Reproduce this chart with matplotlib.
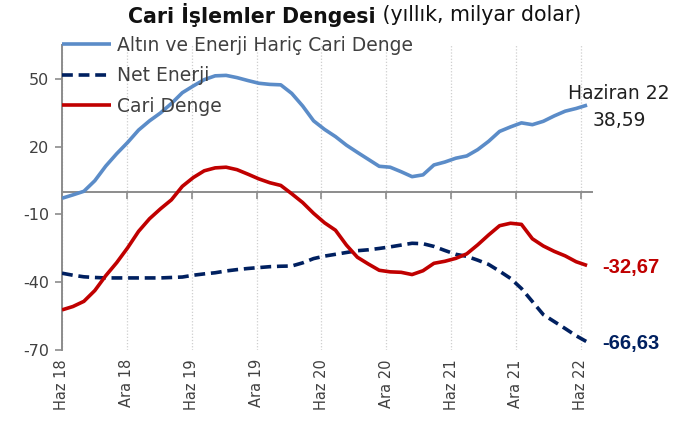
import matplotlib
matplotlib.use("Agg")
import matplotlib.pyplot as plt
import numpy as np

plt.rcParams["axes.unicode_minus"] = False

# ---- data (monthly, Haziran 2018 - Haziran 2022) ----
tick_labels = ["Haz 18", "Ara 18", "Haz 19", "Ara 19", "Haz 20",
               "Ara 20", "Haz 21", "Ara 21", "Haz 22"]

altin_enerji_haric = [-2.8, -1.3, 0.3, 5.0, 11.5, 17.0, 22.0, 27.5, 31.6, 35.1,
                      39.3, 44.1, 47.1, 49.9, 51.6, 51.8, 50.8, 49.5, 48.3, 47.8,
                      47.6, 43.8, 38.2, 31.6, 27.8, 24.6, 20.8, 17.6, 14.5, 11.4,
                      11.0, 9.0, 6.8, 7.6, 12.0, 13.3, 15.0, 16.0, 18.8, 22.5,
                      26.9, 28.9, 30.7, 29.9, 31.4, 33.8, 35.9, 37.1, 38.59]

net_enerji = [-36.1, -37.0, -37.7, -38.0, -38.2, -38.2, -38.2, -38.2, -38.2, -38.2,
              -38.0, -37.8, -37.0, -36.4, -35.9, -35.1, -34.5, -34.0, -33.6, -33.2,
              -33.0, -32.9, -31.5, -29.6, -28.5, -27.7, -26.9, -26.1, -25.7, -25.1,
              -24.4, -23.6, -22.8, -23.0, -24.2, -26.0, -27.7, -28.6, -30.3, -32.2,
              -35.2, -38.4, -42.9, -48.7, -54.5, -57.6, -60.7, -63.9, -66.63]

cari_denge = [-52.4, -50.9, -48.6, -43.8, -37.2, -31.4, -24.8, -17.5, -11.9, -7.5,
              -3.5, 2.5, 6.4, 9.4, 10.7, 11.0, 9.9, 7.9, 5.8, 4.1,
              2.9, -0.8, -4.7, -9.5, -13.7, -17.0, -23.6, -29.0, -32.0, -34.8,
              -35.5, -35.7, -36.7, -35.0, -31.7, -30.8, -29.5, -27.5, -23.5, -19.1,
              -15.0, -13.9, -14.4, -20.8, -24.0, -26.4, -28.4, -31.0, -32.67]

series_names = ["Altın ve Enerji Hariç Cari Denge", "Net Enerji", "Cari Denge"]
y_ticks = [-70, -40, -10, 20, 50]

# ---- styling ----
BLUE = "#5B8CC8"
NAVY = "#002060"
RED = "#C00000"
GRAY = "#8C8C8C"

def fmt(v):
    return f"{v:.2f}".replace(".", ",")

fig = plt.figure(figsize=(6.77, 4.25), dpi=100)
ax = fig.add_axes([62 / 677, 1 - 349.5 / 425, (592 - 62) / 677, (349.5 - 45) / 425])

x = np.arange(len(altin_enerji_haric))
grid_pos = np.arange(len(tick_labels)) * 6 * 0.988

ax.plot(x, altin_enerji_haric, color=BLUE, lw=2.6, solid_capstyle="butt",
        label=series_names[0], zorder=3)
ax.plot(x, net_enerji, color=NAVY, lw=2.6, dashes=(3.0, 1.6),
        label=series_names[1], zorder=3)
ax.plot(x, cari_denge, color=RED, lw=2.6, solid_capstyle="butt",
        label=series_names[2], zorder=3)

ax.set_xlim(0, 48.45)
ax.set_ylim(-70, 65.3)

# spines
for s in ["top", "right"]:
    ax.spines[s].set_visible(False)
ax.spines["left"].set_color(GRAY)
ax.spines["left"].set_linewidth(1.4)
ax.spines["bottom"].set_position(("data", 0))
ax.spines["bottom"].set_color(GRAY)
ax.spines["bottom"].set_linewidth(1.4)

ax.set_yticks(y_ticks)
ax.tick_params(axis="y", colors=GRAY, length=5, width=1.2, labelsize=11.5,
               labelcolor="#404040", pad=4)
ax.set_xticks(grid_pos)
ax.tick_params(axis="x", colors=GRAY, length=5, width=1.2, labelbottom=False,
               direction="out")

# vertical dotted gridlines
ax.grid(axis="x", color="#CFCFCF", linestyle=(0, (1, 1.5)), lw=0.9)
ax.set_axisbelow(True)

# x labels at bottom
sec = ax.secondary_xaxis(-0.0)
sec.set_xticks(grid_pos)
sec.set_xticklabels(tick_labels, rotation=90, fontsize=10.5, color="#404040")
sec.tick_params(length=0, pad=7)
sec.spines["bottom"].set_visible(False)
for lbl in sec.get_xticklabels():
    lbl.set_horizontalalignment("center")

# legend
leg = ax.legend(loc="upper left", bbox_to_anchor=(62 / 677, 1 - 36 / 425),
                bbox_transform=fig.transFigure, frameon=False, fontsize=13.5,
                handlelength=2.6, handletextpad=0.35, labelspacing=0.6,
                borderpad=0, borderaxespad=0)
for t in leg.get_texts():
    t.set_color("#404040")

# end annotations
ax.annotate("Haziran 22\n" + fmt(altin_enerji_haric[-1]),
            xy=(x[-1], altin_enerji_haric[-1]), xytext=(32, -2),
            textcoords="offset pixels", ha="center", va="center",
            fontsize=13.5, color="#202020", linespacing=1.55)
ax.annotate(fmt(cari_denge[-1]), xy=(x[-1], cari_denge[-1]), xytext=(15, -2),
            textcoords="offset pixels", ha="left", va="center",
            fontsize=14.5, fontweight="bold", color=RED,
            family=["Liberation Sans", "DejaVu Sans"])
ax.annotate(fmt(net_enerji[-1]), xy=(x[-1], net_enerji[-1]), xytext=(15, -2),
            textcoords="offset pixels", ha="left", va="center",
            fontsize=14.5, fontweight="bold", color=NAVY,
            family=["Liberation Sans", "DejaVu Sans"])

# title (bold + normal parts)
t1 = fig.text(0.5, 1 - 15 / 425, "Cari İşlemler Dengesi", fontsize=14.8,
              fontweight="bold", ha="right", va="center", color="#111111")
fig.canvas.draw()
w1 = t1.get_window_extent().width
t2 = fig.text(0.5, 1 - 15 / 425, " (yıllık, milyar dolar)", fontsize=14.8,
              ha="left", va="center", color="#111111")
fig.canvas.draw()
w2 = t2.get_window_extent().width
total = w1 + w2
center = 355
left = center - total / 2
t1.set_x((left + w1) / 677)
t2.set_x((left + w1) / 677)

fig.savefig("out.png", dpi=100)
